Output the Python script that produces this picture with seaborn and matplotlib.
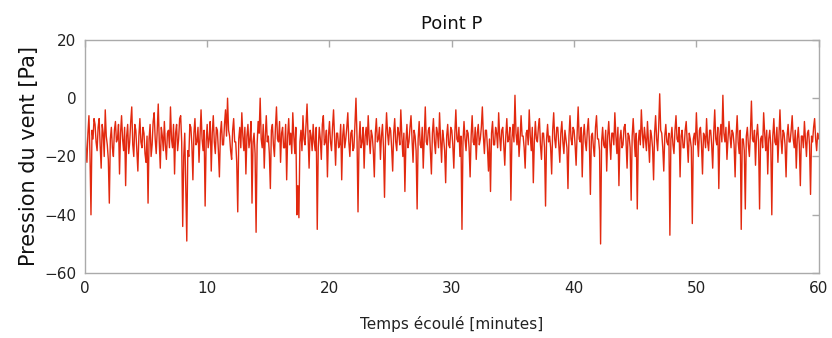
import numpy as np
import pandas as pd
import matplotlib
matplotlib.use("Agg")
import matplotlib.pyplot as plt
import seaborn as sns

# Wind pressure (Pa), one reading every 5 s (12 per minute)
pressure = [
    -10, -17, -22, -12, -6, -19, -40, -11, -14, -7, -9, -15,
    -18, -10, -7, -16, -24, -9, -12, -20, -4, -13, -16, -21,
    -36, -14, -10, -17, -20, -11, -8, -15, -14, -9, -26, -12,
    -6, -14, -18, -10, -30, -13, -9, -19, -15, -8, -3, -16,
    -20, -9, -11, -18, -25, -13, -7, -15, -17, -10, -12, -19,
    -22, -13, -36, -14, -9, -20, -16, -8, -5, -14, -19, -11,
    -2, -15, -24, -10, -13, -18, -8, -16, -21, -12, -11, -17,
    -3, -14, -17, -9, -26, -12, -9, -18, -14, -7, -6, -15,
    -44, -20, -12, -30, -49, -18, -20, -9, -10, -16, -28, -12,
    -7, -16, -15, -10, -22, -13, -4, -14, -18, -11, -37, -15,
    -9, -17, -14, -8, -25, -12, -6, -15, -19, -10, -11, -18,
    -27, -12, -8, -16, -16, -9, -4, -13, 0, -11, -13, -18,
    -21, -11, -7, -15, -15, -22, -39, -14, -10, -17, -5, -13,
    -18, -10, -26, -13, -9, -17, -14, -8, -36, -15, -12, -19,
    -46, -16, -8, -12, 0, -14, -17, -9, -24, -13, -6, -15,
    -13, -19, -31, -11, -9, -16, -20, -10, -3, -14, -15, -8,
    -22, -12, -10, -17, -17, -9, -28, -13, -7, -16, -12, -19,
    -5, -13, -19, -10, -40, -30, -41, -15, -11, -18, -6, -14,
    -16, -9, -2, -13, -24, -11, -13, -18, -9, -15, -18, -10,
    -45, -17, -10, -14, -21, -9, -6, -16, -15, -11, -27, -13,
    -8, -15, -18, -10, -4, -14, -23, -12, -12, -17, -16, -9,
    -28, -13, -9, -17, -14, -10, -5, -15, -20, -12, -11, -18,
    -17, -9, 0, -13, -39, -15, -8, -17, -15, -10, -24, -13,
    -10, -16, -6, -14, -19, -11, -13, -18, -27, -12, -7, -15,
    -14, -10, -21, -13, -9, -17, -34, -14, -5, -12, -16, -10,
    -11, -17, -25, -12, -7, -15, -18, -10, -12, -16, -4, -13,
    -20, -12, -32, -15, -9, -17, -15, -10, -6, -14, -22, -11,
    -13, -18, -38, -14, -8, -16, -17, -10, -24, -13, -3, -15,
    -16, -11, -10, -18, -26, -12, -7, -15, -19, -10, -12, -17,
    -5, -14, -22, -11, -14, -18, -29, -13, -9, -16, -17, -10,
    -11, -16, -24, -12, -4, -14, -15, -10, -20, -13, -45, -15,
    -8, -14, -18, -11, -12, -17, -27, -13, -6, -15, -16, -10,
    -21, -12, -9, -16, -14, -10, -3, -13, -19, -11, -11, -17,
    -25, -14, -32, -12, -8, -16, -16, -10, -12, -17, -5, -13,
    -18, -11, -10, -16, -23, -13, -7, -15, -14, -10, -35, -14,
    -9, -15, 1, -12, -16, -10, -20, -14, -6, -13, -13, -17,
    -24, -12, -11, -16, -4, -13, -18, -10, -29, -15, -8, -14,
    -15, -10, -7, -16, -21, -12, -12, -17, -37, -14, -9, -15,
    -13, -17, -26, -11, -5, -14, -17, -10, -10, -16, -22, -12,
    -8, -15, -19, -11, -14, -17, -31, -13, -6, -14, -16, -10,
    -11, -16, -23, -12, -3, -14, -15, -10, -27, -13, -9, -15,
    -18, -11, -7, -15, -33, -13, -12, -17, -20, -10, -6, -14,
    -14, -18, -50, -15, -10, -16, -17, -11, -25, -13, -8, -15,
    -21, -12, -12, -16, -5, -13, -19, -10, -30, -14, -11, -17,
    -16, -10, -9, -15, -24, -12, -13, -17, -35, -13, -7, -14,
    -20, -12, -38, -15, -11, -16, -4, -12, -17, -10, -14, -18,
    -8, -15, -22, -11, -13, -17, -28, -12, -6, -14, -18, -10,
    1.5, -11, -12, -17, -25, -13, -9, -15, -16, -12, -47, -14,
    -10, -16, -19, -11, -6, -14, -15, -10, -27, -13, -11, -17,
    -17, -11, -8, -15, -22, -12, -14, -17, -43, -14, -12, -16,
    -5, -14, -20, -11, -10, -16, -26, -12, -13, -17, -7, -15,
    -18, -11, -11, -16, -24, -12, -4, -14, -16, -10, -31, -13,
    -9, -15, 1, -12, -15, -10, -21, -14, -8, -13, -17, -11,
    -12, -16, -27, -13, -6, -15, -19, -11, -45, -14, -14, -18,
    -38, -13, -10, -16, -20, -12, -1, -14, -15, -11, -23, -13,
    -9, -15, -38, -14, -13, -17, -5, -12, -18, -11, -26, -14,
    -11, -16, -40, -13, -7, -15, -16, -10, -22, -13, -4, -14,
    -19, -11, -12, -16, -27, -13, -9, -15, -15, -11, -6, -14,
    -17, -11, -24, -14, -10, -16, -30, -13, -13, -17, -8, -14,
    -20, -12, -11, -16, -33, -13, -15, -10, -7, -14, -18, -12,
    -14,
]
sample_step_min = 5 / 60
elapsed = [i * sample_step_min for i in range(len(pressure))]

x_ticks = [0, 10, 20, 30, 40, 50, 60]
y_ticks = [-60, -40, -20, 0, 20]

df = pd.DataFrame({"t": elapsed, "p": pressure})

sns.set_theme(style="white")
plt.rcParams["font.family"] = ["DejaVu Sans"]

fig = plt.figure(figsize=(8.32, 3.38), dpi=100)
ax = fig.add_axes([0.102, 0.192, 0.882, 0.690])

sns.lineplot(data=df, x="t", y="p", ax=ax, color="#e2290f", linewidth=1.0)

ax.set_xlim(0, 60)
ax.set_ylim(-60, 20)
ax.set_xticks(x_ticks)
ax.set_yticks(y_ticks)
ax.tick_params(direction="in", top=True, right=True, length=5, width=1,
               color="#aaaaaa", labelsize=11, labelcolor="#222222", pad=6)
for s in ax.spines.values():
    s.set_color("#aaaaaa")
    s.set_linewidth(1)

ax.set_title("Point P", fontsize=13, color="#111111", pad=8)
ax.set_xlabel("Temps écoulé [minutes]", fontsize=11, color="#222222", labelpad=14)
ax.set_ylabel("Pression du vent [Pa]", fontsize=15, color="#111111", labelpad=4)

fig.savefig("out.png", dpi=100)
